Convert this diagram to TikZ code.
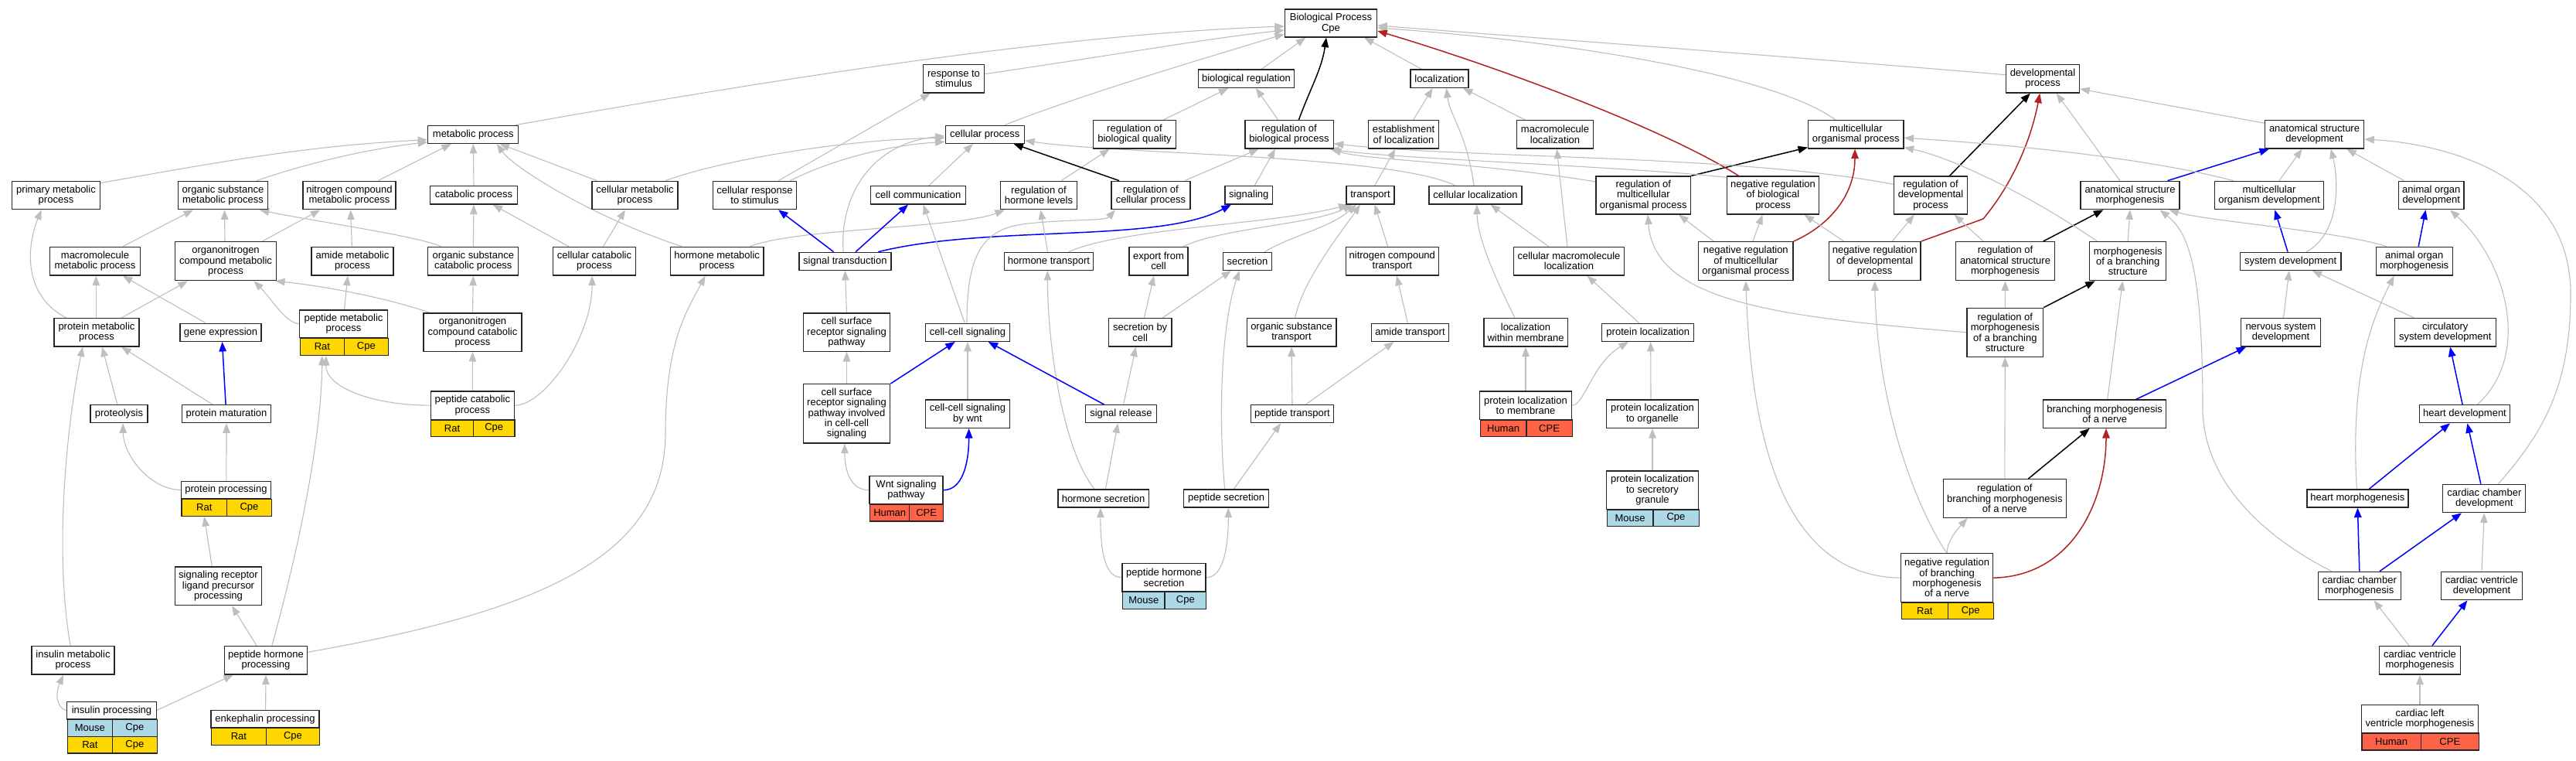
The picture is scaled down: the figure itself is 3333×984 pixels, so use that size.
\documentclass[tikz,border=0pt]{standalone}
\usepackage{fontspec}
\setmainfont{Liberation Sans}
\usetikzlibrary{arrows.meta,calc}
\definecolor{edgegray}{HTML}{BEBEBE}
\definecolor{gogold}{HTML}{FFD700}
\definecolor{golb}{HTML}{ADD8E6}
\definecolor{gotom}{HTML}{FF6347}
\definecolor{gored}{HTML}{B22222}
\newcommand\gofont{\fontsize{13}{13.3}\selectfont}
\pgfdeclarelayer{bgfill}
\pgfdeclarelayer{edges}
\pgfsetlayers{bgfill,edges,main}
\tikzset{
  go/.style={draw=black!85, line width=1.3pt, fill=white, inner sep=0pt, align=center, font=\gofont},
  cell/.style={draw=black!85, line width=1.3pt, inner sep=0pt, anchor=north west, font=\gofont},
  isa/.style={draw=edgegray, line width=1.1pt, -{Triangle[length=12.5pt,width=9.5pt]}},
  pof/.style={draw=blue, line width=1.5pt, -{Triangle[length=12.5pt,width=9.5pt]}},
  rg/.style={draw=black, line width=1.5pt, -{Triangle[length=12.5pt,width=9.5pt]}},
  nrg/.style={draw=gored, line width=1.5pt, -{Triangle[length=12.5pt,width=9.5pt]}}
}
\begin{document}
\begin{tikzpicture}[x=1pt,y=-1pt]
\useasboundingbox (0,0) rectangle (3333,984);
\begin{pgfonlayer}{bgfill}
\fill[white] (0,0) rectangle (3333,984);
\end{pgfonlayer}
% ---------- row 1-2
\node[go,minimum width=119pt,minimum height=36pt] (bp) at (1722,30) {Biological Process\\Cpe};
\node[go,minimum width=79pt,minimum height=36.7pt] (resp) at (1234,101.7) {response to\\stimulus};
\node[go,minimum width=124pt,minimum height=23.3pt] (breg) at (1612.5,101.7) {biological regulation};
\node[go,minimum width=75pt,minimum height=23.3pt] (loc) at (1862.5,101.7) {localization};
\node[go,minimum width=95pt,minimum height=36.7pt] (dev) at (2643,101.7) {developmental\\process};
\node[go,minimum width=117pt,minimum height=23pt] (met) at (612.3,173.8) {metabolic process};
\node[go,minimum width=102.2pt,minimum height=23pt] (cpr) at (1274.3,173.8) {cellular process};
\node[go,minimum width=107pt,minimum height=36.3pt] (rbq) at (1468,173.8) {regulation of\\biological quality};
\node[go,minimum width=114.3pt,minimum height=36.3pt] (rbp) at (1668,173.8) {regulation of\\biological process};
\node[go,minimum width=90.7pt,minimum height=36.3pt] (estl) at (1816,173.8) {establishment\\of localization};
\node[go,minimum width=99pt,minimum height=36.3pt] (mloc) at (2012,173.8) {macromolecule\\localization};
\node[go,minimum width=123.3pt,minimum height=36.3pt] (mop) at (2401.3,173.8) {multicellular\\organismal process};
\node[go,minimum width=128.3pt,minimum height=36.3pt] (asd) at (2994.5,173.8) {anatomical structure\\development};
% ---------- row 3
\node[go,minimum width=114pt,minimum height=36.5pt] (prim) at (72.5,252.5) {primary metabolic\\process};
\node[go,minimum width=116pt,minimum height=36.5pt] (osm) at (288.5,252.5) {organic substance\\metabolic process};
\node[go,minimum width=120pt,minimum height=36.5pt] (ncm) at (452,252.5) {nitrogen compound\\metabolic process};
\node[go,minimum width=112.5pt,minimum height=23.3pt] (cat) at (613,252.3) {catabolic process};
\node[go,minimum width=111pt,minimum height=36.4pt] (cmp) at (821.5,252.5) {cellular metabolic\\process};
\node[go,minimum width=108.6pt,minimum height=36.4pt] (crs) at (976.5,252.5) {cellular response\\to stimulus};
\node[go,minimum width=123pt,minimum height=23.3pt] (ccom) at (1188,252.3) {cell communication};
\node[go,minimum width=99pt,minimum height=36.4pt] (rhl) at (1344,252.5) {regulation of\\hormone levels};
\node[go,minimum width=102pt,minimum height=36.4pt] (rcp) at (1489,252.5) {regulation of\\cellular process};
\node[go,minimum width=61.4pt,minimum height=23.3pt] (sig) at (1615.7,252.3) {signaling};
\node[go,minimum width=61.8pt,minimum height=23.3pt] (tra) at (1773,252.3) {transport};
\node[go,minimum width=120pt,minimum height=23.3pt] (cloc) at (1909,252.3) {cellular localization};
\node[go,minimum width=122.5pt,minimum height=49pt] (rmop) at (2126.3,252.5) {regulation of\\multicellular\\organismal process};
\node[go,minimum width=119pt,minimum height=49pt] (nrbp) at (2294,252.5) {negative regulation\\of biological\\process};
\node[go,minimum width=95pt,minimum height=49pt] (rdp) at (2498,252.5) {regulation of\\developmental\\process};
\node[go,minimum width=128pt,minimum height=36.4pt] (asm) at (2756,252.5) {anatomical structure\\morphogenesis};
\node[go,minimum width=141.3pt,minimum height=36.4pt] (mod) at (2936,252.5) {multicellular\\organism development};
\node[go,minimum width=84.4pt,minimum height=36.4pt] (aod) at (3145.7,252.5) {animal organ\\development};
% ---------- row 4
\node[go,minimum width=117pt,minimum height=36.7pt] (mmp) at (123,337.7) {macromolecule\\metabolic process};
\node[go,minimum width=131pt,minimum height=50pt] (onm) at (292,337.7) {organonitrogen\\compound metabolic\\process};
\node[go,minimum width=106pt,minimum height=36.7pt] (amm) at (456,337.7) {amide metabolic\\process};
\node[go,minimum width=117pt,minimum height=36.7pt] (oscp) at (612.3,337.7) {organic substance\\catabolic process};
\node[go,minimum width=107pt,minimum height=36.7pt] (ccp) at (769,337.7) {cellular catabolic\\process};
\node[go,minimum width=120.4pt,minimum height=36.7pt] (hmp) at (927.7,337.7) {hormone metabolic\\process};
\node[go,minimum width=119pt,minimum height=23pt] (st) at (1093.4,337.8) {signal transduction};
\node[go,minimum width=114.7pt,minimum height=23pt] (htr) at (1357,337.8) {hormone transport};
\node[go,minimum width=76pt,minimum height=36.7pt] (exp) at (1499,337.7) {export from\\cell};
\node[go,minimum width=63pt,minimum height=23pt] (sec) at (1614,337.8) {secretion};
\node[go,minimum width=120.3pt,minimum height=36.7pt] (nct) at (1801.3,337.7) {nitrogen compound\\transport};
\node[go,minimum width=143pt,minimum height=36.7pt] (cml) at (2030,337.7) {cellular macromolecule\\localization};
\node[go,minimum width=122.5pt,minimum height=50pt] (nrmop) at (2258.8,337.7) {negative regulation\\of multicellular\\organismal process};
\node[go,minimum width=118.6pt,minimum height=50pt] (nrdp) at (2425.7,337.7) {negative regulation\\of developmental\\process};
\node[go,minimum width=127.5pt,minimum height=50pt] (rasm) at (2594.5,337.7) {regulation of\\anatomical structure\\morphogenesis};
\node[go,minimum width=99.2pt,minimum height=50pt] (mbs) at (2753.2,337.7) {morphogenesis\\of a branching\\structure};
\node[go,minimum width=130.5pt,minimum height=23pt] (sd) at (2963.6,337.8) {system development};
\node[go,minimum width=98.9pt,minimum height=36.7pt] (aom) at (3123.7,337.7) {animal organ\\morphogenesis};
% ---------- row 5
\node[go,minimum width=110pt,minimum height=36.3pt] (pmp) at (125,429.8) {protein metabolic\\process};
\node[go,minimum width=105pt,minimum height=23pt] (gex) at (285.5,429.8) {gene expression};
\node[go,minimum width=114pt,minimum height=35.7pt] (pepm) at (444.5,418.8) {peptide metabolic\\process};
\node[cell,fill=gogold,minimum width=57.5pt,minimum height=22pt] (pepmA) at (387.5,436.7) {Rat};
\node[cell,fill=gogold,minimum width=56.5pt,minimum height=22pt] (pepmB) at (445,436.7) {Cpe};
\node[go,minimum width=127pt,minimum height=49.3pt] (oncp) at (611.5,429.7) {organonitrogen\\compound catabolic\\process};
\node[go,minimum width=112.5pt,minimum height=49.3pt] (csr) at (1095.5,429.7) {cell surface\\receptor signaling\\pathway};
\node[go,minimum width=109.3pt,minimum height=23pt] (ccs) at (1252,429.8) {cell-cell signaling};
\node[go,minimum width=81.8pt,minimum height=36.3pt] (sbc) at (1475.2,429.8) {secretion by\\cell};
\node[go,minimum width=115.7pt,minimum height=36.3pt] (ost) at (1671,429.8) {organic substance\\transport};
\node[go,minimum width=100.3pt,minimum height=23pt] (atr) at (1824.5,429.8) {amide transport};
\node[go,minimum width=108.3pt,minimum height=36.3pt] (lwm) at (1974,429.8) {localization\\within membrane};
\node[go,minimum width=119pt,minimum height=23pt] (ploc) at (2132.3,429.8) {protein localization};
\node[go,minimum width=98.6pt,minimum height=63pt] (rmbs) at (2594.3,429.8) {regulation of\\morphogenesis\\of a branching\\structure};
\node[go,minimum width=103pt,minimum height=36.3pt] (nsd) at (2951,429.8) {nervous system\\development};
\node[go,minimum width=131pt,minimum height=36.3pt] (csd) at (3163.8,429.8) {circulatory\\system development};
% ---------- row 6
\node[go,minimum width=74pt,minimum height=23pt] (prol) at (154,535.2) {proteolysis};
\node[go,minimum width=115pt,minimum height=23pt] (pmat) at (293,535.2) {protein maturation};
\node[go,minimum width=108.3pt,minimum height=36.3pt] (pcp) at (611.3,524.2) {peptide catabolic\\process};
\node[cell,fill=gogold,minimum width=54.7pt,minimum height=21.7pt] (pcpA) at (557.1,542.3) {Rat};
\node[cell,fill=gogold,minimum width=53.6pt,minimum height=21.7pt] (pcpB) at (611.8,542.3) {Cpe};
\node[go,minimum width=112.5pt,minimum height=76.3pt] (csrc) at (1095.5,534.8) {cell surface\\receptor signaling\\pathway involved\\in cell-cell\\signaling};
\node[go,minimum width=109.3pt,minimum height=36.3pt] (ccw) at (1252,535.2) {cell-cell signaling\\by wnt};
\node[go,minimum width=91.5pt,minimum height=23pt] (srel) at (1450.4,535.2) {signal release};
\node[go,minimum width=107.2pt,minimum height=23pt] (ptr) at (1672,535.2) {peptide transport};
\node[go,minimum width=119pt,minimum height=36.3pt] (plm) at (1974,524.2) {protein localization\\to membrane};
\node[cell,fill=gotom,minimum width=59.8pt,minimum height=21.7pt] (plmA) at (1914.5,542.3) {Human};
\node[cell,fill=gotom,minimum width=59.2pt,minimum height=21.7pt] (plmB) at (1974.3,542.3) {CPE};
\node[go,minimum width=119pt,minimum height=36.3pt] (plo) at (2138,535.2) {protein localization\\to organelle};
\node[go,minimum width=159.2pt,minimum height=36.3pt] (bmn) at (2723.2,535.2) {branching morphogenesis\\of a nerve};
\node[go,minimum width=117.5pt,minimum height=23pt] (hd) at (3189,535.2) {heart development};
% ---------- row 7
\node[go,minimum width=116.5pt,minimum height=22.4pt] (pproc) at (292.5,633.5) {protein processing};
\node[cell,fill=gogold,minimum width=58.6pt,minimum height=22pt] (pprocA) at (234.3,644.7) {Rat};
\node[cell,fill=gogold,minimum width=57.9pt,minimum height=22pt] (pprocB) at (292.9,644.7) {Cpe};
\node[go,minimum width=95pt,minimum height=36pt] (wnt) at (1172.5,633.7) {Wnt signaling\\pathway};
\node[cell,fill=gotom,minimum width=51.1pt,minimum height=21.6pt] (wntA) at (1125,651.7) {Human};
\node[cell,fill=gotom,minimum width=43.9pt,minimum height=21.6pt] (wntB) at (1176.1,651.7) {CPE};
\node[go,minimum width=117.5pt,minimum height=23pt] (hsec) at (1427.6,644.5) {hormone secretion};
\node[go,minimum width=109.6pt,minimum height=23pt] (psec) at (1586.6,644.5) {peptide secretion};
\node[go,minimum width=119pt,minimum height=49.3pt] (plsg) at (2138,633.7) {protein localization\\to secretory\\granule};
\node[cell,fill=golb,minimum width=59.7pt,minimum height=21.7pt] (plsgA) at (2078.5,658.3) {Mouse};
\node[cell,fill=golb,minimum width=59.3pt,minimum height=21.7pt] (plsgB) at (2138.2,658.3) {Cpe};
\node[go,minimum width=159pt,minimum height=49.6pt] (rbmn) at (2593.8,644.5) {regulation of\\branching morphogenesis\\of a nerve};
\node[go,minimum width=131pt,minimum height=23pt] (hm) at (3050.4,644.5) {heart morphogenesis};
\node[go,minimum width=107pt,minimum height=36.4pt] (ccd) at (3214.3,644.5) {cardiac chamber\\development};
% ---------- row 8
\node[go,minimum width=112pt,minimum height=49.7pt] (srlpp) at (282.5,757.8) {signaling receptor\\ligand precursor\\processing};
\node[go,minimum width=108.2pt,minimum height=36.3pt] (phs) at (1506,746.8) {peptide hormone\\secretion};
\node[cell,fill=golb,minimum width=54.5pt,minimum height=21.7pt] (phsA) at (1451.9,765) {Mouse};
\node[cell,fill=golb,minimum width=53.7pt,minimum height=21.7pt] (phsB) at (1506.4,765) {Cpe};
\node[go,minimum width=119pt,minimum height=63pt] (nrbmn) at (2519.1,747.2) {negative regulation\\of branching\\morphogenesis\\of a nerve};
\node[cell,fill=gogold,minimum width=60pt,minimum height=21.3pt] (nrbmnA) at (2459.6,778.7) {Rat};
\node[cell,fill=gogold,minimum width=59pt,minimum height=21.3pt] (nrbmnB) at (2519.6,778.7) {Cpe};
\node[go,minimum width=106.7pt,minimum height=36.4pt] (ccm) at (3052.8,757.5) {cardiac chamber\\morphogenesis};
\node[go,minimum width=105.6pt,minimum height=36.4pt] (cvd) at (3211,757.5) {cardiac ventricle\\development};
% ---------- row 9-10
\node[go,minimum width=107pt,minimum height=36.3pt] (insm) at (94.5,853.8) {insulin metabolic\\process};
\node[go,minimum width=107pt,minimum height=36.3pt] (php) at (344,853.8) {peptide hormone\\processing};
\node[go,minimum width=105.5pt,minimum height=36.7pt] (cvm) at (3131,853.7) {cardiac ventricle\\morphogenesis};
\node[go,minimum width=116pt,minimum height=22.3pt] (insp) at (144.5,918.8) {insulin processing};
\node[cell,fill=golb,minimum width=58.5pt,minimum height=21.7pt] (inspA) at (86.5,930) {Mouse};
\node[cell,fill=golb,minimum width=57.5pt,minimum height=21.7pt] (inspB) at (145,930) {Cpe};
\node[cell,fill=gogold,minimum width=58.5pt,minimum height=21.6pt] (inspC) at (86.5,951.7) {Rat};
\node[cell,fill=gogold,minimum width=57.5pt,minimum height=21.6pt] (inspD) at (145,951.7) {Cpe};
\node[go,minimum width=140pt,minimum height=22.7pt] (enk) at (343,929.7) {enkephalin processing};
\node[cell,fill=gogold,minimum width=70.6pt,minimum height=21.7pt] (enkA) at (273,941) {Rat};
\node[cell,fill=gogold,minimum width=69.4pt,minimum height=21.7pt] (enkB) at (343.6,941) {Cpe};
\node[go,minimum width=151.3pt,minimum height=35.6pt] (clvm) at (3131,929.5) {cardiac left\\ventricle morphogenesis};
\node[cell,fill=gotom,minimum width=76.6pt,minimum height=22pt] (clvmA) at (3055.2,947.3) {Human};
\node[cell,fill=gotom,minimum width=74.7pt,minimum height=22pt] (clvmB) at (3131.8,947.3) {CPE};

\begin{pgfonlayer}{edges}
% metabolic
\draw[isa] ($(prim.north east)+(0,3)$) .. controls (280,210) and (400,188) .. ($(met.west)+(0,7)$);
\draw[isa] ($(osm.north)+(43.6,0)$) .. controls (400,210) and (480,192) .. ($(met.west)+(0,10)$);
\draw[isa] ($(ncm.north)+(37.3,0)$) -- ($(met.south)+(-28.4,0)$);
\draw[isa] ($(mmp.north)+(35.9,0)$) -- ($(osm.south)+(-38.5,0)$);
\draw[isa] ($(onm.north)+(-1,0)$) -- ($(osm.south)+(2,0)$);
\draw[isa] ($(onm.north)+(47.3,0)$) -- ($(ncm.south)+(-37.7,0)$);
\draw[isa] ($(oscp.north west)+(17.6,0)$) .. controls (540,305) and (400,285) .. ($(osm.south)+(47.2,0)$);
\draw[isa] ($(amm.north)+(-0.6,0)$) -- ($(ncm.south)+(1.6,0)$);
\draw[isa] ($(pmp.north)+(-39.3,0)$) .. controls (30,382) and (34,320) .. ($(prim.south)+(-18.9,0)$);
\draw[isa] ($(pmp.north)+(-0.7,0)$) -- ($(mmp.south)+(1.3,0)$);
\draw[isa] ($(pmp.north)+(32.1,0)$) -- ($(onm.south)+(-49.1,0)$);
\draw[isa] ($(gex.north)+(-19.4,0)$) -- ($(mmp.south)+(35.9,0)$);
\draw[isa] (pepm.west) .. controls (370,418) and (350,385) .. ($(onm.south)+(36.6,0)$);
\draw[isa] ($(pepm.north)+(0.9,0)$) -- ($(amm.south)+(-6,0)$);
\draw[isa] ($(oncp.north west)+(9,0)$) .. controls (500,385) and (420,370) .. ($(onm.south east)+(-2,0)$);
\draw[pof] ($(pmat.north)+(-0.9,0)$) -- ($(gex.south)+(2,0)$);
\draw[isa] ($(prol.north)+(-2.2,0)$) -- ($(pmp.south)+(7.1,0)$);
\draw[isa] ($(pmat.north)+(-18,0)$) -- ($(pmp.south)+(32.1,0)$);
\draw[isa] ($(insm.north)+(-3.4,0)$) .. controls (68,700) and (90,530) .. ($(pmp.south)+(-18,0)$);
\draw[isa] ($(php.north)+(7.8,0)$) .. controls (400,660) and (416,540) .. (pepmA.south);
\draw[isa] (pcp.west) .. controls (480,524) and (421,500) .. ($(pepmA.south)+(5,0)$);
\draw[isa] (pproc.west) .. controls (195,633) and (160,590) .. ($(prol.south)+(5,0)$);
\draw[isa] ($(pproc.north)+(0.4,0)$) -- (pmat.south);
\draw[isa] ($(srlpp.north)+(-8.2,0)$) -- (pprocA.south);
\draw[isa] ($(php.north)+(-11.9,0)$) -- ($(srlpp.south)+(17.5,0)$);
\draw[isa] ($(php.east)+(0,-10.5)$) .. controls (700,790) and (861,720) .. (861,560) .. controls (861,440) and (890,400) .. ($(hmp.south)+(-15.2,0)$);
\draw[isa] (insp.west) .. controls (72,915) and (72,895) .. ($(insm.south)+(-12.4,0)$);
\draw[isa] ($(insp.east)+(0,-0.5)$) -- ($(php.south)+(-42.2,0)$);
\draw[isa] ($(enk.north)+(0.6,0)$) -- (php.south);
\draw[isa] ($(met.north east)+(-4.7,0)$) .. controls (960,110) and (1350,45) .. ($(bp.west)+(0,4)$);
\draw[isa] (cat.north) -- (met.south);
\draw[isa] ($(cmp.north west)+(7.2,0)$) -- ($(met.south)+(34.1,0)$);
\draw[isa] ($(cmp.north)+(39.2,0)$) .. controls (940,205) and (1100,180) .. ($(cpr.west)+(0,4.5)$);
\draw[isa] ($(hmp.north)+(-45.6,0)$) .. controls (762,279) and (663,215) .. ($(met.south)+(30.6,0)$);
\draw[isa] ($(hmp.north east)+(-18.4,0)$) .. controls (1030,295) and (1240,295) .. ($(rhl.south)+(-44,0)$);
\draw[isa] ($(crs.north)+(30.6,0)$) -- ($(resp.south)+(-30.4,0)$);
\draw[isa] ($(crs.north east)+(-9.4,0)$) .. controls (1080,205) and (1150,188) .. ($(cpr.west)+(0,9.5)$);
\draw[pof] ($(st.north)+(-14.8,0)$) -- ($(crs.south)+(30.6,0)$);
\draw[isa] (oscp.north) -- (cat.south);
\draw[isa] ($(ccp.north)+(-33.3,0)$) -- ($(cat.south)+(24.5,0)$);
\draw[isa] ($(ccp.north)+(11.4,0)$) -- ($(cmp.south)+(-12.6,0)$);
\draw[isa] (oncp.north) -- (oscp.south);
\draw[isa] (pcp.north) -- (oncp.south);
\draw[isa] (pcp.east) .. controls (705,524) and (766,436) .. ($(ccp.south)+(-2.9,0)$);
% signalling
\draw[isa] ($(st.north)+(-2.3,0)$) .. controls (1086,250) and (1130,185) .. ($(cpr.west)+(0,2)$);
\draw[pof] ($(st.north)+(13.7,0)$) -- ($(ccom.south)+(-13,0)$);
\draw[pof] ($(st.north east)+(-17.2,0)$) .. controls (1280,290) and (1500,315) .. ($(sig.south)+(-22.8,0)$);
\draw[isa] (csr.north) -- (st.south);
\draw[isa] (csrc.north) -- (csr.south);
\draw[pof] (csrc.north east) -- ($(ccs.south)+(-16.3,0)$);
\draw[isa] (wnt.west) .. controls (1100,633.7) and (1093,608) .. ($(csrc.south)+(-2.6,0)$);
\draw[pof] (wnt.east) .. controls (1245,633.7) and (1253.6,600) .. ($(ccw.south)+(1.6,0)$);
\draw[isa] (ccw.north) -- (ccs.south);
\draw[isa] ($(ccs.north)+(-3.8,0)$) -- ($(ccom.south)+(6.6,0)$);
\draw[isa] ($(ccs.north)+(-1,0)$) .. controls (1251,330) and (1270,295) .. (1330,289) .. controls (1390,283) and (1430,286) .. ($(rcp.south)+(-46,0)$);
\draw[isa] ($(ccom.north)+(13.8,0)$) -- ($(cpr.south)+(-15.4,0)$);
\draw[isa] ($(rhl.north)+(29.2,0)$) -- ($(rbq.south)+(-32.3,0)$);
\draw[rg] ($(rcp.north)+(-40.8,0)$) -- ($(cpr.south east)+(-14.7,0)$);
\draw[isa] ($(rcp.north east)+(-7.9,0)$) -- ($(rbp.south)+(-39.4,0)$);
\draw[isa] ($(rbq.north)+(37.4,0)$) -- ($(breg.south)+(-23.2,0)$);
\draw[isa] ($(rbp.north)+(-14.4,0)$) -- ($(breg.south)+(12.5,0)$);
\draw[rg] ($(rbp.north)+(12.4,0)$) .. controls (1695,115) and (1710,90) .. ($(bp.south)+(-5.9,0)$);
\draw[isa] ($(breg.north)+(19.6,0)$) -- ($(bp.south)+(-32.7,0)$);
\draw[isa] ($(resp.east)+(0,-6)$) .. controls (1450,70) and (1560,50) .. ($(bp.west)+(0,9)$);
\draw[isa] ($(cpr.north)+(25.7,0)$) .. controls (1400,122) and (1560,75) .. ($(bp.west)+(0,14)$);
\draw[isa] ($(sig.north)+(7.5,0)$) -- ($(rbp.south)+(-18,0)$);
\draw[isa] ($(htr.north)+(-1.6,0)$) -- ($(rhl.south)+(2.4,0)$);
\draw[isa] ($(htr.north east)+(-32.2,0)$) .. controls (1450,295) and (1650,290) .. ($(tra.south west)+(3,0)$);
\draw[isa] ($(exp.north east)+(-6.6,0)$) .. controls (1580,295) and (1700,290) .. ($(tra.south)+(-23,0)$);
\draw[isa] ($(sec.north east)+(-9.8,0)$) .. controls (1670,305) and (1720,295) .. ($(tra.south)+(-18,0)$);
\draw[isa] ($(sbc.north east)+(-12.5,0)$) -- ($(sec.south)+(-21,0)$);
\draw[isa] ($(sbc.north)+(5.2,0)$) -- ($(exp.south)+(-6,0)$);
\draw[isa] ($(psec.north)+(-2,0)$) .. controls (1574.6,513) and (1583.6,409) .. ($(sec.south)+(-10.4,0)$);
\draw[isa] ($(hsec.north)+(-11.5,0)$) .. controls (1376,583) and (1355.4,449) .. ($(htr.south)+(-1.6,0)$);
\draw[isa] ($(hsec.north)+(2.8,0)$) -- ($(srel.south)+(-4,0)$);
\draw[pof] ($(srel.north)+(-21.8,0)$) -- ($(ccs.south)+(26.6,0)$);
\draw[isa] ($(srel.north)+(3.2,0)$) -- ($(sbc.south)+(-5.6,0)$);
\draw[isa] ($(psec.north)+(9.8,0)$) -- ($(ptr.south)+(-14.9,0)$);
\draw[isa] (phs.west) .. controls (1426,746.8) and (1423.9,700) .. ($(hsec.south)+(-3.7,0)$);
\draw[isa] (phs.east) .. controls (1585,746.8) and (1589.3,700) .. ($(psec.south)+(2.7,0)$);
\draw[isa] ($(ost.north)+(4.7,0)$) .. controls (1685,362) and (1740,294) .. ($(tra.south)+(-13,0)$);
\draw[isa] (ptr.north) -- (ost.south);
\draw[isa] ($(ptr.north)+(17.3,0)$) -- ($(atr.south)+(-21,0)$);
% localization
\draw[isa] ($(loc.north)+(-23.2,0)$) -- ($(bp.south east)+(-17,0)$);
\draw[isa] ($(estl.north)+(12.6,0)$) -- ($(loc.south)+(-8.9,0)$);
\draw[isa] ($(cloc.north)+(-1.9,0)$) .. controls (1897,170) and (1876,150) .. ($(loc.south)+(8.9,0)$);
\draw[isa] ($(mloc.north)+(-38.8,0)$) -- ($(loc.south)+(30.4,0)$);
\draw[isa] ($(tra.north)+(5.6,0)$) -- ($(estl.south)+(-10.6,0)$);
\draw[isa] ($(nct.north)+(-5.6,0)$) -- ($(tra.south)+(5.6,0)$);
\draw[isa] ($(cml.north)+(-26.4,0)$) -- ($(cloc.south)+(19.6,0)$);
\draw[isa] ($(cml.north)+(-2.1,0)$) -- ($(mloc.south)+(2.3,0)$);
\draw[isa] ($(lwm.north)+(-14,0)$) .. controls (1935,360) and (1912,310) .. ($(cloc.south)+(1.7,0)$);
\draw[isa] ($(ploc.north)+(-11.6,0)$) -- ($(cml.south)+(23.6,0)$);
\draw[isa] ($(atr.north)+(-3.1,0)$) -- ($(nct.south)+(5.8,0)$);
\draw[isa] ($(cloc.north west)+(34.9,0)$) .. controls (1800,200) and (1450,200) .. ($(cpr.east)+(0,8)$);
\draw[isa] ($(rmop.west)+(0,-17.5)$) .. controls (1915,210) and (1765,207) .. ($(rbp.south east)+(-3,0)$);
\draw[rg] (rmop.north east) -- ($(mop.south west)+(0,-2)$);
\draw[isa] (plm.east) .. controls (2050,524) and (2060,470) .. ($(ploc.south)+(-25.2,0)$);
\draw[isa] (plm.north) -- (lwm.south);
\draw[isa] ($(plo.north)+(-2,0)$) -- ($(ploc.south)+(3.4,0)$);
\draw[isa] (plsg.north) -- (plo.south);
% development
\draw[isa] ($(dev.west)+(0,-5)$) .. controls (2300,72) and (2000,50) .. ($(bp.east)+(0,3)$);
\draw[isa] ($(mop.north)+(-26.3,0)$) .. controls (2300,100) and (2050,55) .. ($(bp.east)+(0,6)$);
\draw[nrg] ($(nrbp.north west)+(15.7,0)$) .. controls (2160,170) and (1950,90) .. ($(bp.east)+(0,10)$);
\draw[isa] ($(nrbp.north west)+(0,2)$) .. controls (2100,215) and (1800,205) .. ($(rbp.south east)+(-6,0)$);
\draw[isa] ($(rdp.west)+(0,-14.2)$) .. controls (2250,200) and (1900,205) .. ($(rbp.east)+(0,12)$);
\draw[rg] ($(rdp.north)+(24.5,0)$) -- ($(dev.south)+(-16.2,0)$);
\draw[isa] ($(nrmop.north)+(9.1,0)$) -- ($(nrbp.south)+(-13.6,0)$);
\draw[isa] ($(nrmop.north west)+(20.4,0)$) -- ($(rmop.south east)+(-16.1,0)$);
\draw[nrg] (nrmop.north east) .. controls (2370,290) and (2400,250) .. ($(mop.south)+(-1.3,0)$);
\draw[isa] ($(nrdp.north)+(-40,0)$) -- ($(nrbp.south east)+(-19.6,0)$);
\draw[isa] ($(nrdp.north)+(22.5,0)$) -- ($(rdp.south)+(-21.2,0)$);
\draw[nrg] (nrdp.north east) -- (2566,283) .. controls (2610,230) and (2630,170) .. ($(dev.south)+(-3.7,0)$);
\draw[isa] ($(rasm.north)+(-28.4,0)$) -- ($(rdp.south)+(30.6,0)$);
\draw[rg] ($(rasm.north east)+(-15.3,0)$) -- ($(asm.south)+(-34.6,0)$);
\draw[isa] (rmbs.north) -- (rasm.south);
\draw[rg] (rmbs.north east) -- ($(mbs.south)+(-42.5,0)$);
\draw[isa] (rmbs.west) .. controls (2300,410) and (2140,390) .. ($(rmop.south)+(5.8,0)$);
\draw[isa] (mbs.north) -- (asm.south);
\draw[isa] ($(mbs.north west)+(10.7,0)$) .. controls (2630,255) and (2530,205) .. ($(mop.south east)+(0,-2)$);
\draw[isa] ($(asm.north)+(-13.1,0)$) -- ($(dev.south)+(17.7,0)$);
\draw[pof] ($(asm.north east)+(-16.1,0)$) -- ($(asd.south)+(-58.6,0)$);
\draw[isa] ($(mod.north)+(-46.5,0)$) .. controls (2800,210) and (2650,190) .. ($(mop.east)+(0,4.5)$);
\draw[isa] (nrbmn.north) .. controls (2519,700) and (2532,685) .. ($(rbmn.south west)+(32,0)$);
\draw[nrg] (nrbmn.east) .. controls (2680,745) and (2725,650) .. ($(bmn.south)+(1.8,0)$);
\draw[isa] (nrbmn.west) .. controls (2300,745) and (2265,550) .. ($(nrmop.south)+(0.1,0)$);
\draw[isa] (nrbmn.north) .. controls (2500,690) and (2430,560) .. (nrdp.south);
\draw[isa] (rbmn.north) -- (rmbs.south);
\draw[rg] ($(rbmn.north)+(30.5,0)$) -- ($(bmn.south)+(-19.6,0)$);
\draw[isa] ($(bmn.north)+(3.6,0)$) -- ($(mbs.south)+(-6.8,0)$);
\draw[pof] ($(bmn.north east)+(-39.8,0)$) -- ($(nsd.south)+(-44.9,0)$);
\draw[isa] ($(asd.north west)+(0,4.3)$) -- ($(dev.east)+(0,13.3)$);
\draw[isa] ($(mod.north)+(12.9,0)$) -- ($(asd.south)+(-15.9,0)$);
\draw[isa] ($(aod.north)+(-35.1,0)$) -- ($(asd.south)+(41.7,0)$);
\draw[pof] ($(sd.north)+(-3.6,0)$) -- ($(mod.south)+(7.3,0)$);
\draw[isa] ($(sd.north)+(20.6,0)$) .. controls (3030,300) and (3025,230) .. ($(asd.south)+(21.3,0)$);
\draw[pof] ($(aom.north)+(5.5,0)$) -- ($(aod.south)+(-7.2,0)$);
\draw[isa] ($(aom.north west)+(14.1,0)$) .. controls (3028,299) and (2856,286) .. ($(asm.south east)+(-14.2,0)$);
\draw[isa] ($(nsd.north)+(3.5,0)$) -- ($(sd.south)+(-1.7,0)$);
\draw[isa] ($(csd.north)+(-40.2,0)$) -- ($(sd.south)+(28,0)$);
\draw[pof] ($(hd.north)+(-2.9,0)$) -- ($(csd.south)+(6.3,0)$);
\draw[isa] ($(hd.north)+(16.4,0)$) .. controls (3275,460) and (3245,340) .. ($(aod.south)+(24.4,0)$);
\draw[pof] ($(hm.north)+(14.8,0)$) -- ($(hd.south)+(-19,0)$);
\draw[isa] ($(hm.north)+(-1.1,0)$) .. controls (3041,483) and (3067.6,416) .. ($(aom.south)+(-26.1,0)$);
\draw[pof] ($(ccd.north)+(-4.5,0)$) -- ($(hd.south)+(3.4,0)$);
\draw[isa] ($(ccd.north)+(18.2,0)$) .. controls (3290,560) and (3326,500) .. (3326,380) .. controls (3326,220) and (3150,185) .. ($(asd.east)+(0,6.2)$);
\draw[pof] (ccm.north) -- (hm.south);
\draw[pof] ($(ccm.north)+(26.2,0)$) -- ($(ccd.south)+(-29.3,0)$);
\draw[isa] ($(ccm.north)+(-35.9,0)$) .. controls (2940,700) and (2852,630) .. (2850,530) .. controls (2850,340) and (2830,300) .. ($(asm.south)+(38.6,0)$);
\draw[isa] (cvd.north) -- (ccd.south);
\draw[isa] ($(cvm.north)+(-14.1,0)$) -- ($(ccm.south)+(18.8,0)$);
\draw[pof] ($(cvm.north)+(16,0)$) -- ($(cvd.south)+(-18.6,0)$);
\draw[isa] (clvm.north) -- (cvm.south);
\end{pgfonlayer}
\end{tikzpicture}
\end{document}
